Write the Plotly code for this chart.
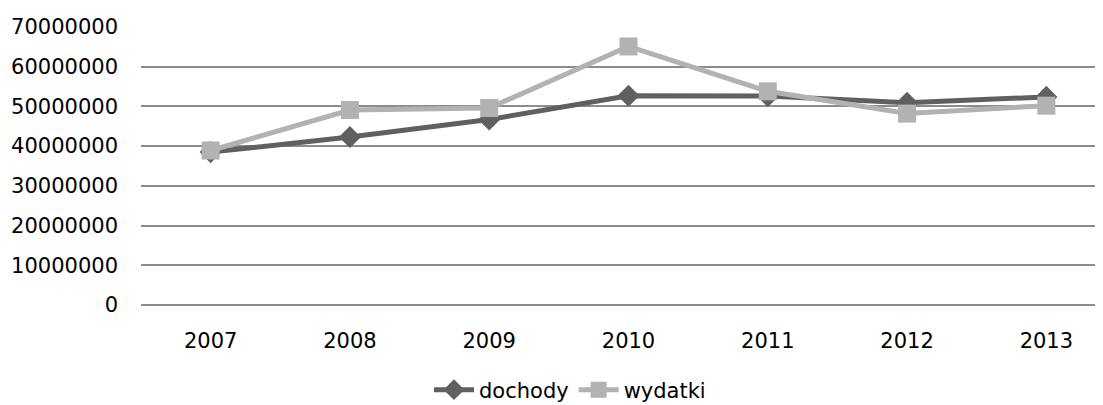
import plotly.graph_objects as go

years = ["2007", "2008", "2009", "2010", "2011", "2012", "2013"]
dochody = [38500000, 42300000, 46700000, 52700000, 52600000, 50900000, 52400000]
wydatki = [38900000, 49100000, 49600000, 65100000, 53800000, 48200000, 50200000]
y_ticks = [0, 10000000, 20000000, 30000000, 40000000, 50000000, 60000000, 70000000]

fig = go.Figure()
fig.add_trace(go.Scatter(
    x=list(range(len(years))), y=dochody, name="dochody", mode="lines+markers",
    line=dict(color="#606060", width=5),
    marker=dict(symbol="diamond", size=17, color="#606060"),
))
fig.add_trace(go.Scatter(
    x=list(range(len(years))), y=wydatki, name="wydatki", mode="lines+markers",
    line=dict(color="#b2b2b2", width=5),
    marker=dict(symbol="square", size=18, color="#b2b2b2"),
))

fig.update_layout(
    width=1108, height=405,
    margin=dict(l=133, r=0, t=19, b=108, autoexpand=False),
    paper_bgcolor="white", plot_bgcolor="white",
    font=dict(family="'DejaVu Sans', sans-serif", size=21, color="black"),
    showlegend=True,
    legend=dict(orientation="h", x=0.44, xanchor="center", y=-0.306, yanchor="middle",
                font=dict(size=21), itemwidth=40, tracegroupgap=0),
    xaxis=dict(
        tickmode="array", tickvals=list(range(len(years))), ticktext=years,
        range=[-0.5, 6.5], showgrid=False, zeroline=False, automargin=False,
        showline=False, ticks="", ticklabelstandoff=21,
    ),
    yaxis=dict(
        range=[0, 70000000], tickmode="array", tickvals=y_ticks,
        ticktext=[str(v) for v in y_ticks], automargin=False,
        showgrid=True, gridcolor="#8c8c8c", gridwidth=1.5,
        zeroline=True, zerolinecolor="#8c8c8c", zerolinewidth=1.5,
        showline=False, ticks="", ticklabelstandoff=22,
    ),
)

fig.write_html("out.html")
